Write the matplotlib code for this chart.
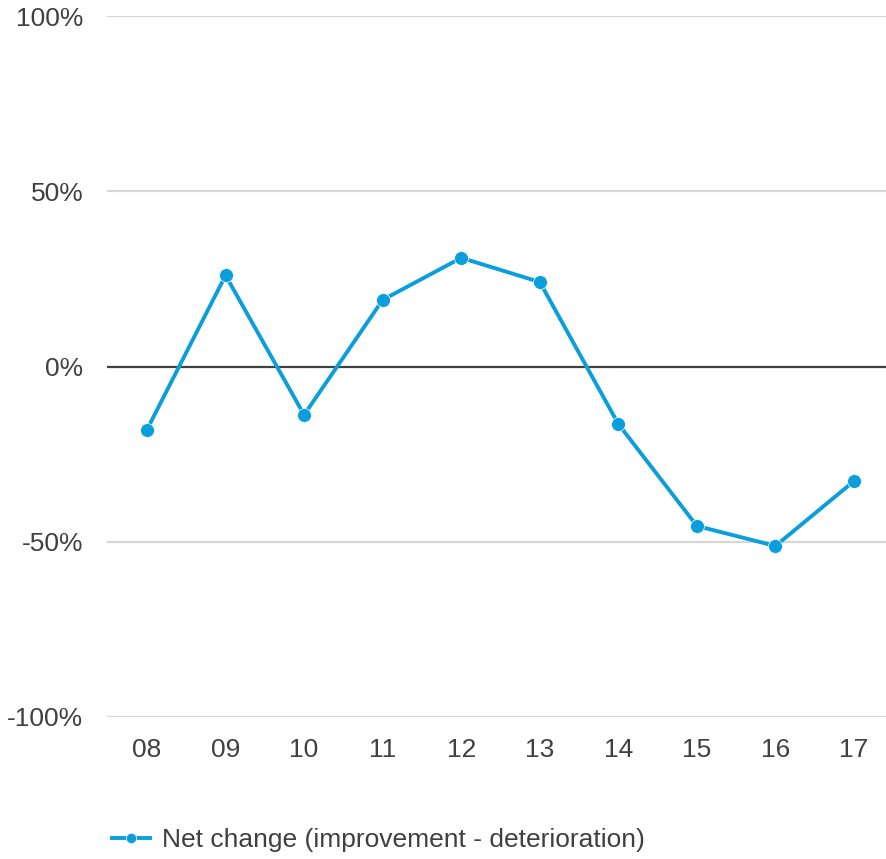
import matplotlib
matplotlib.use("Agg")
import matplotlib.pyplot as plt
from matplotlib.ticker import FuncFormatter

plt.rcParams['font.family'] = ['Liberation Sans', 'DejaVu Sans']

categories = ["08", "09", "10", "11", "12", "13", "14", "15", "16", "17"]
net_change = [-18.0, 26.0, -13.8, 19.0, 31.0, 24.1, -16.4, -45.5, -51.2, -32.7]
yticks = [-100, -50, 0, 50, 100]

blue = "#0a9fdc"
text_color = "#404040"

fig = plt.figure(figsize=(8.86, 8.59), dpi=100)
ax = fig.add_axes([107/886, 1-717/859, (886-107)/886, (717-16)/859])

x = list(range(len(categories)))
for yv in yticks:
    if yv == 0:
        continue
    ax.axhline(yv, color="#dad6d3", lw=1.6, zorder=1)
ax.axhline(0, color="#404040", lw=1.6, zorder=2)

ax.plot(x, net_change, color=blue, lw=2.8, marker="o", markersize=10,
        markerfacecolor=blue, markeredgecolor="white", markeredgewidth=0.5, zorder=3,
        label="Net change (improvement - deterioration)")

ax.set_xlim(-(147-107)/78.56, 9 + (886-854)/78.56)
ax.set_ylim(-100, 100)
ax.set_yticks(yticks)
ax.yaxis.set_major_formatter(FuncFormatter(lambda v, p: f"{int(v)}%"))
ax.set_xticks(x)
ax.set_xticklabels(categories)
ax.tick_params(axis='both', length=0, labelsize=19, colors=text_color)
ax.tick_params(axis='y', pad=17)
ax.tick_params(axis='x', pad=15)
for s in ax.spines.values():
    s.set_visible(False)

leg = fig.legend(loc="center left", bbox_to_anchor=(112/886, 1-840/859), frameon=False,
                 fontsize=19, handlelength=1.45, handletextpad=0.45, labelcolor=text_color,
                 borderaxespad=0, borderpad=0, markerscale=0.75)

fig.savefig("out.png", dpi=100)
